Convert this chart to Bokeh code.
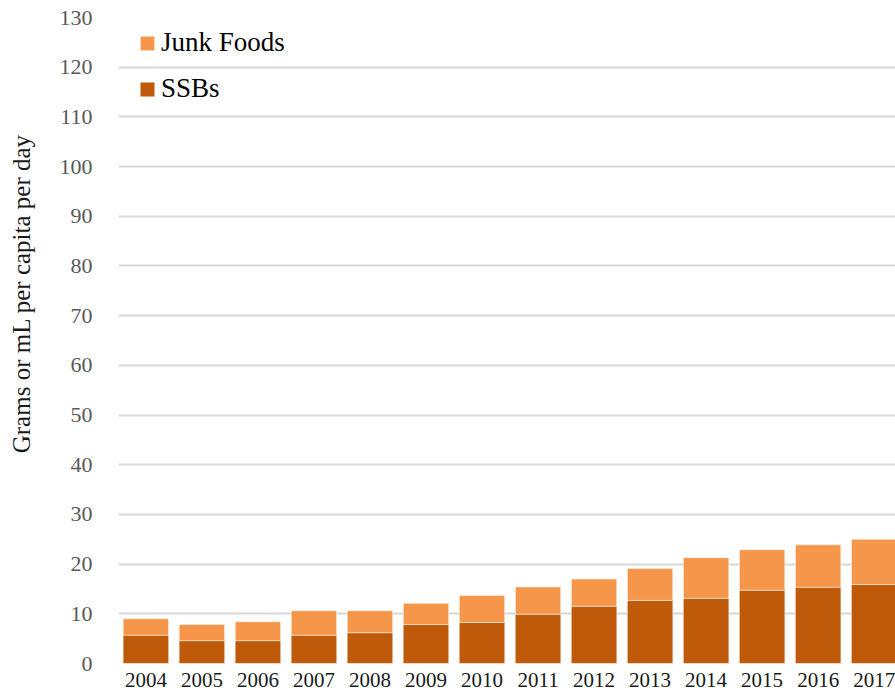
from bokeh.plotting import figure
from bokeh.models import ColumnDataSource, Range1d, Legend, LegendItem, FixedTicker
from bokeh.embed import file_html
from bokeh.resources import INLINE

years = ["2004", "2005", "2006", "2007", "2008", "2009", "2010",
         "2011", "2012", "2013", "2014", "2015", "2016", "2017"]
ssbs = [5.7, 4.6, 4.6, 5.7, 6.2, 7.85, 8.25, 9.9, 11.5, 12.7, 13.1, 14.75, 15.35, 15.9]
junk = [3.3, 3.25, 3.8, 4.9, 4.4, 4.25, 5.45, 5.5, 5.5, 6.4, 8.2, 8.15, 8.55, 9.1]
y_ticks = list(range(0, 131, 10))
y_title = "Grams or mL per capita per day"

xpos = list(range(len(years)))
tops = [s + j for s, j in zip(ssbs, junk)]
src = ColumnDataSource(dict(x=xpos, ssbs=ssbs, tops=tops))

FONT = "Liberation Serif"

p = figure(width=895, height=691, output_backend="svg", toolbar_location=None,
           x_range=Range1d(-0.489, 13.381), y_range=Range1d(0, 130),
           min_border_left=118, min_border_right=0, min_border_top=17, min_border_bottom=28)
p.outline_line_color = None
p.background_fill_color = "white"
p.border_fill_color = "white"

r_ssb = p.vbar(x="x", top="ssbs", bottom=0, width=0.81, source=src,
               fill_color="#BE5A0A", line_color="white", line_alpha=0.35, line_width=1)
r_junk = p.vbar(x="x", top="tops", bottom="ssbs", width=0.81, source=src,
                fill_color="#F6964A", line_color="white", line_alpha=0.5, line_width=1)

# axes
p.xaxis.ticker = FixedTicker(ticks=xpos)
p.xaxis.major_label_overrides = {i: y for i, y in enumerate(years)}
p.xaxis.axis_line_color = None
p.xaxis.major_tick_line_color = None
p.xaxis.minor_tick_line_color = None
p.xaxis.major_label_text_font = FONT
p.xaxis.major_label_text_font_size = "21px"
p.xaxis.major_label_text_color = "#1a1a1a"
p.xaxis.major_label_standoff = 3

p.yaxis.ticker = FixedTicker(ticks=y_ticks)
p.yaxis.axis_line_color = None
p.yaxis.major_tick_line_color = None
p.yaxis.minor_tick_line_color = None
p.yaxis.major_label_text_font = FONT
p.yaxis.major_label_text_font_size = "22px"
p.yaxis.major_label_text_color = "#595959"
p.yaxis.major_label_standoff = 20
# leading no-break spaces lift the visible title to where the original has it
p.yaxis.axis_label = "\u00a0" * 15 + y_title
p.yaxis.axis_label_text_font = FONT
p.yaxis.axis_label_text_font_size = "25px"
p.yaxis.axis_label_text_font_style = "normal"
p.yaxis.axis_label_text_color = "#1a1a1a"
p.yaxis.axis_label_standoff = 22

p.xgrid.grid_line_color = None
p.ygrid.grid_line_color = "#D9D9D9"
p.ygrid.grid_line_width = 2

legend = Legend(items=[LegendItem(label="Junk Foods", renderers=[r_junk]),
                       LegendItem(label="SSBs", renderers=[r_ssb])],
                location=(20, 559), margin=0, padding=5,
                glyph_width=18, glyph_height=18, label_height=30, spacing=15,
                label_standoff=5, label_text_font=FONT, label_text_font_size="27px",
                label_text_color="#000000", background_fill_alpha=0,
                border_line_color=None)
p.add_layout(legend, "center")

open("out.html", "w").write(file_html(p, INLINE))
